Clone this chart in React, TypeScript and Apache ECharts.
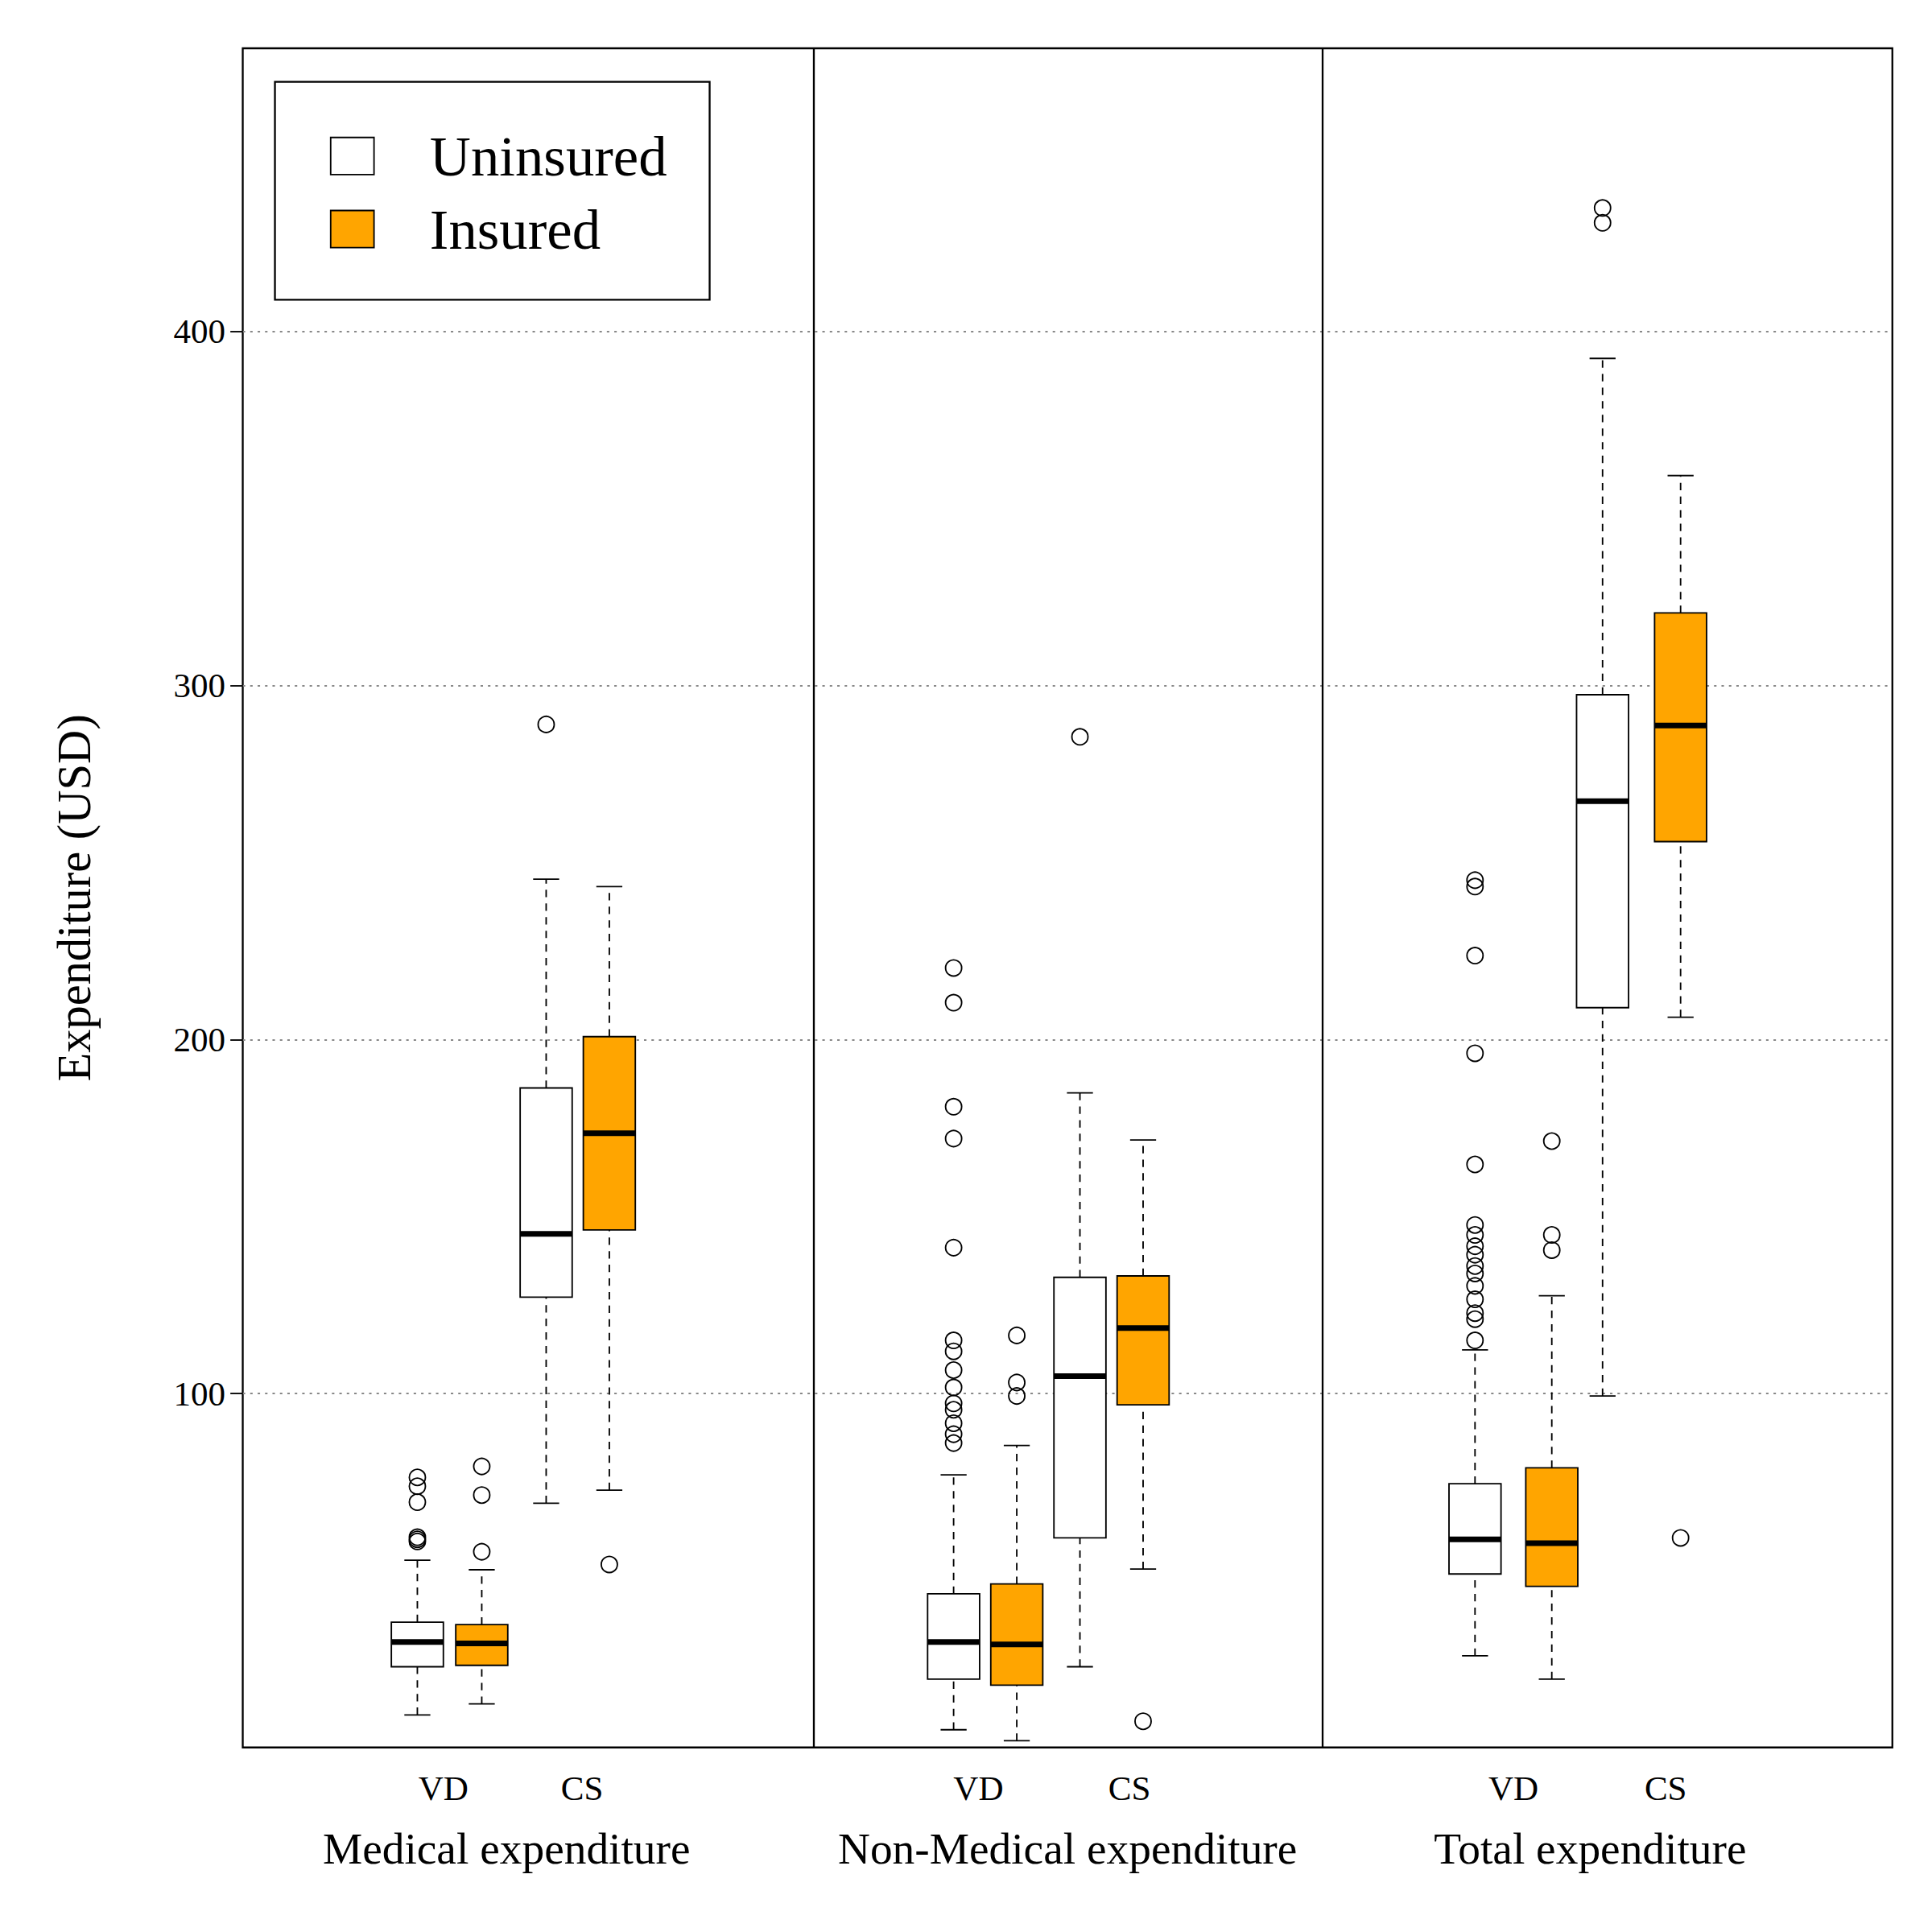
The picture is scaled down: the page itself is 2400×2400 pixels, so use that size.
import { useEffect, useRef } from 'react';
import * as echarts from 'echarts';

const S = 2400 / 1560;
const FONT = '"Liberation Serif", "Times New Roman", serif';

// x positions of boxes (in the reference's horizontal units)
const positions = [337, 389, 441, 492, 770, 821, 872, 923, 1191, 1253, 1294, 1357];
// group: 0 = Uninsured, 1 = Insured
const groups = [0, 1, 0, 1, 0, 1, 0, 1, 0, 1, 0, 1];
// [lower whisker, Q1, median, Q3, upper whisker]
const stats = [
  [9.2, 22.8, 29.8, 35.4, 52.9],
  [12.3, 23.2, 29.4, 34.7, 50.2],
  [69.0, 127.2, 145.1, 186.3, 245.3],
  [72.7, 146.2, 173.5, 200.8, 243.2],
  [5.0, 19.3, 29.8, 43.4, 77.0],
  [1.9, 17.6, 29.1, 46.2, 85.3],
  [22.8, 59.2, 104.9, 132.8, 184.9],
  [50.4, 96.8, 118.5, 133.2, 171.6],
  [25.9, 49.0, 58.8, 74.5, 112.3],
  [19.3, 45.5, 57.7, 79.0, 127.6],
  [99.3, 209.0, 267.3, 297.4, 392.4],
  [206.3, 255.9, 288.7, 320.5, 359.3],
];
const outliers = [
  [58.8, 58.2, 59.4, 69.3, 73.8, 76.3],
  [55.3, 71.3, 79.4],
  [289.0],
  [51.7],
  [86, 88.5, 91.6, 95.4, 97.2, 101.7, 106.6, 111.9, 115, 141.2, 172, 181, 210.4, 220.2],
  [99.3, 103.1, 116.4],
  [285.5],
  [7.4],
  [115, 121, 122.7, 126.6, 130.4, 133.9, 136, 139.2, 141.6, 144.8, 147.6, 164.7, 196.1, 223.7, 243.2, 245],
  [140.5, 144.8, 171.3],
  [430.7, 434.9],
  [59.2],
];
const yTicks = [100, 200, 300, 400];
const tickLabels = [
  { text: 'VD', x: 358 }, { text: 'CS', x: 470 },
  { text: 'VD', x: 790 }, { text: 'CS', x: 912 },
  { text: 'VD', x: 1222 }, { text: 'CS', x: 1345 },
];
const panelNames = [
  { text: 'Medical expenditure', x: 409 },
  { text: 'Non-Medical expenditure', x: 862 },
  { text: 'Total expenditure', x: 1284 },
];
const panelDividers = [657, 1068];
const legendItems = ['Uninsured', 'Insured'];
const fills = ['#ffffff', '#ffa500'];

export default function App() {
  const ref = useRef<HTMLDivElement | null>(null);

  useEffect(() => {
    document.body.style.margin = '0';
    if (!ref.current) return;
    const chart = echarts.init(ref.current, undefined, { renderer: 'svg' });

    const boxData = positions.map((x, i) => [x, ...stats[i], groups[i]]);
    const outData: number[][] = [];
    positions.forEach((x, i) => outliers[i].forEach((v) => outData.push([x, v])));

    const texts: any[] = [];
    tickLabels.forEach((t) =>
      texts.push({
        type: 'text', x: t.x * S, y: 1444 * S,
        style: { text: t.text, font: `${28 * S}px ${FONT}`, fill: '#000', align: 'center', verticalAlign: 'middle' },
      })
    );
    panelNames.forEach((t) =>
      texts.push({
        type: 'text', x: t.x * S, y: 1493 * S,
        style: { text: t.text, font: `${36 * S}px ${FONT}`, fill: '#000', align: 'center', verticalAlign: 'middle' },
      })
    );
    texts.push({
      type: 'text', x: 60 * S, y: 725 * S, rotation: Math.PI / 2,
      style: { text: 'Expenditure (USD)', font: `${38 * S}px ${FONT}`, fill: '#000', align: 'center', verticalAlign: 'middle' },
    });
    texts.push({
      type: 'rect', shape: { x: 222 * S, y: 66 * S, width: 351 * S, height: 176 * S },
      style: { fill: '#fff', stroke: '#000', lineWidth: 1.5 * S }, z: 10,
    });
    legendItems.forEach((name, i) => {
      const cy = (126 + i * 59) * S;
      texts.push({
        type: 'rect', shape: { x: 267 * S, y: cy - 15 * S, width: 35 * S, height: 30 * S },
        style: { fill: fills[i], stroke: '#000', lineWidth: 1.2 * S }, z: 11,
      });
      texts.push({
        type: 'text', x: 347 * S, y: cy,
        style: { text: name, font: `${46 * S}px ${FONT}`, fill: '#000', verticalAlign: 'middle' }, z: 11,
      });
    });

    chart.setOption({
      animation: false,
      grid: {
        left: 196 * S, top: 39 * S, width: (1528 - 196) * S, height: (1411 - 39) * S,
        show: true, borderColor: '#000', borderWidth: 1.5 * S, backgroundColor: 'transparent',
      },
      xAxis: {
        type: 'value', min: 196, max: 1528,
        axisLine: { show: false }, axisTick: { show: false }, axisLabel: { show: false }, splitLine: { show: false },
      },
      yAxis: {
        type: 'value', min: 0, max: 480, interval: 100,
        axisLine: { show: false },
        axisTick: { show: true, customValues: yTicks, length: 10 * S, lineStyle: { color: '#000', width: 1.2 * S } },
        axisLabel: { customValues: yTicks, fontFamily: FONT, fontSize: 28 * S, color: '#000', margin: 14 * S },
        splitLine: { show: true, lineStyle: { color: '#888', type: [2 * S, 4 * S], width: 1.2 * S } },
      },
      graphic: texts,
      series: [
        {
          type: 'custom',
          data: boxData,
          encode: { x: 0, y: [1, 2, 3, 4, 5] },
          renderItem: (params: any, api: any) => {
            const x = api.value(0);
            const w = api.size([42, 0])[0];
            const sw = api.size([21, 0])[0];
            const p = [1, 2, 3, 4, 5].map((k) => api.coord([x, api.value(k)]));
            const cx = p[0][0];
            const g = api.value(6);
            const lw = 1.2 * S;
            return {
              type: 'group',
              children: [
                { type: 'line', shape: { x1: cx, y1: p[0][1], x2: cx, y2: p[1][1] }, style: { stroke: '#000', lineWidth: lw, lineDash: [6 * S, 5 * S] } },
                { type: 'line', shape: { x1: cx, y1: p[3][1], x2: cx, y2: p[4][1] }, style: { stroke: '#000', lineWidth: lw, lineDash: [6 * S, 5 * S] } },
                { type: 'line', shape: { x1: cx - sw / 2, y1: p[0][1], x2: cx + sw / 2, y2: p[0][1] }, style: { stroke: '#000', lineWidth: lw } },
                { type: 'line', shape: { x1: cx - sw / 2, y1: p[4][1], x2: cx + sw / 2, y2: p[4][1] }, style: { stroke: '#000', lineWidth: lw } },
                { type: 'rect', shape: { x: cx - w / 2, y: p[3][1], width: w, height: p[1][1] - p[3][1] }, style: { fill: fills[g], stroke: '#000', lineWidth: lw } },
                { type: 'line', shape: { x1: cx - w / 2, y1: p[2][1], x2: cx + w / 2, y2: p[2][1] }, style: { stroke: '#000', lineWidth: 4.5 * S } },
              ],
            };
          },
          markLine: {
            silent: true, symbol: 'none', label: { show: false },
            lineStyle: { color: '#000', type: 'solid', width: 1.5 * S },
            data: panelDividers.map((v) => ({ xAxis: v })),
          },
        },
        {
          type: 'scatter',
          data: outData,
          symbol: 'circle',
          symbolSize: 13 * S,
          itemStyle: { color: 'transparent', borderColor: '#000', borderWidth: 1.2 * S, opacity: 1 },
          z: 5,
        },
      ],
    });
    return () => chart.dispose();
  }, []);

  return <div ref={ref} style={{ width: 2400, height: 2400 }} />;
}
